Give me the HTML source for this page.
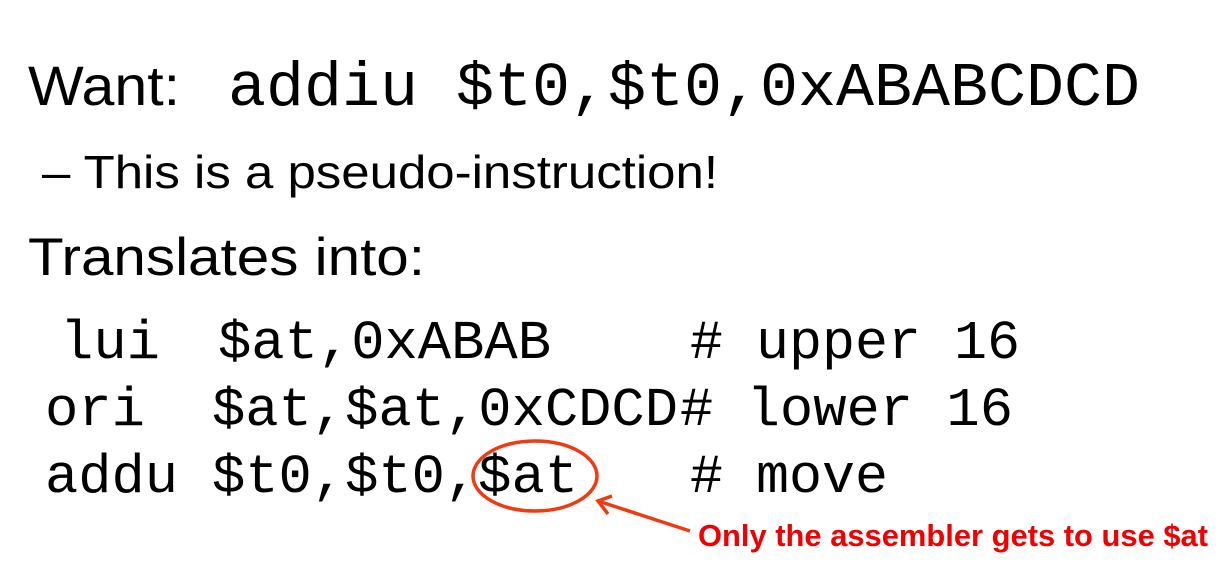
<!DOCTYPE html>
<html><head><style>
html,body{margin:0;padding:0;background:#fff;}
svg{display:block;}
.s{font-family:"Liberation Sans",sans-serif;fill:#000;}
.m{font-family:"Liberation Mono",monospace;fill:#000;}
</style></head><body>
<svg width="1232" height="576" viewBox="0 0 1232 576" xmlns="http://www.w3.org/2000/svg">
<text class="s" x="28" y="105" font-size="56" textLength="152" lengthAdjust="spacingAndGlyphs">Want:</text>
<text class="m" x="228" y="105" font-size="62" textLength="912" lengthAdjust="spacingAndGlyphs">addiu $t0,$t0,0xABABCDCD</text>
<text class="s" x="42" y="188" font-size="46" textLength="676" lengthAdjust="spacingAndGlyphs">– This is a pseudo-instruction!</text>
<text class="s" x="28" y="275" font-size="53" textLength="397" lengthAdjust="spacingAndGlyphs">Translates into:</text>

<g class="m" font-size="55">
<text x="60" y="358" textLength="100" lengthAdjust="spacingAndGlyphs">lui</text>
<text x="218" y="358" textLength="333" lengthAdjust="spacingAndGlyphs">$at,0xABAB</text>
<text x="690" y="358" textLength="330" lengthAdjust="spacingAndGlyphs"># upper 16</text>
<text x="45" y="425" textLength="100" lengthAdjust="spacingAndGlyphs">ori</text>
<text x="212" y="425" textLength="466" lengthAdjust="spacingAndGlyphs">$at,$at,0xCDCD</text>
<text x="680" y="425" textLength="333" lengthAdjust="spacingAndGlyphs"># lower 16</text>
<text x="45" y="492" textLength="133" lengthAdjust="spacingAndGlyphs">addu</text>
<text x="212" y="492" textLength="366" lengthAdjust="spacingAndGlyphs">$t0,$t0,$at</text>
<text x="690" y="492" textLength="198" lengthAdjust="spacingAndGlyphs"># move</text>
</g>

<ellipse cx="535" cy="476" rx="62" ry="35" fill="none" stroke="#f03a10" stroke-width="3.5"/>
<line x1="598" y1="501" x2="690" y2="531" stroke="#f03a10" stroke-width="3.5"/>
<polyline points="612,496 598,501 608,514" fill="none" stroke="#f03a10" stroke-width="3.5"/>
<text x="698" y="546" font-family="Liberation Sans,sans-serif" font-weight="bold" font-size="31" fill="#f00000" textLength="510" lengthAdjust="spacingAndGlyphs">Only the assembler gets to use $at</text>
</svg>
</body></html>
